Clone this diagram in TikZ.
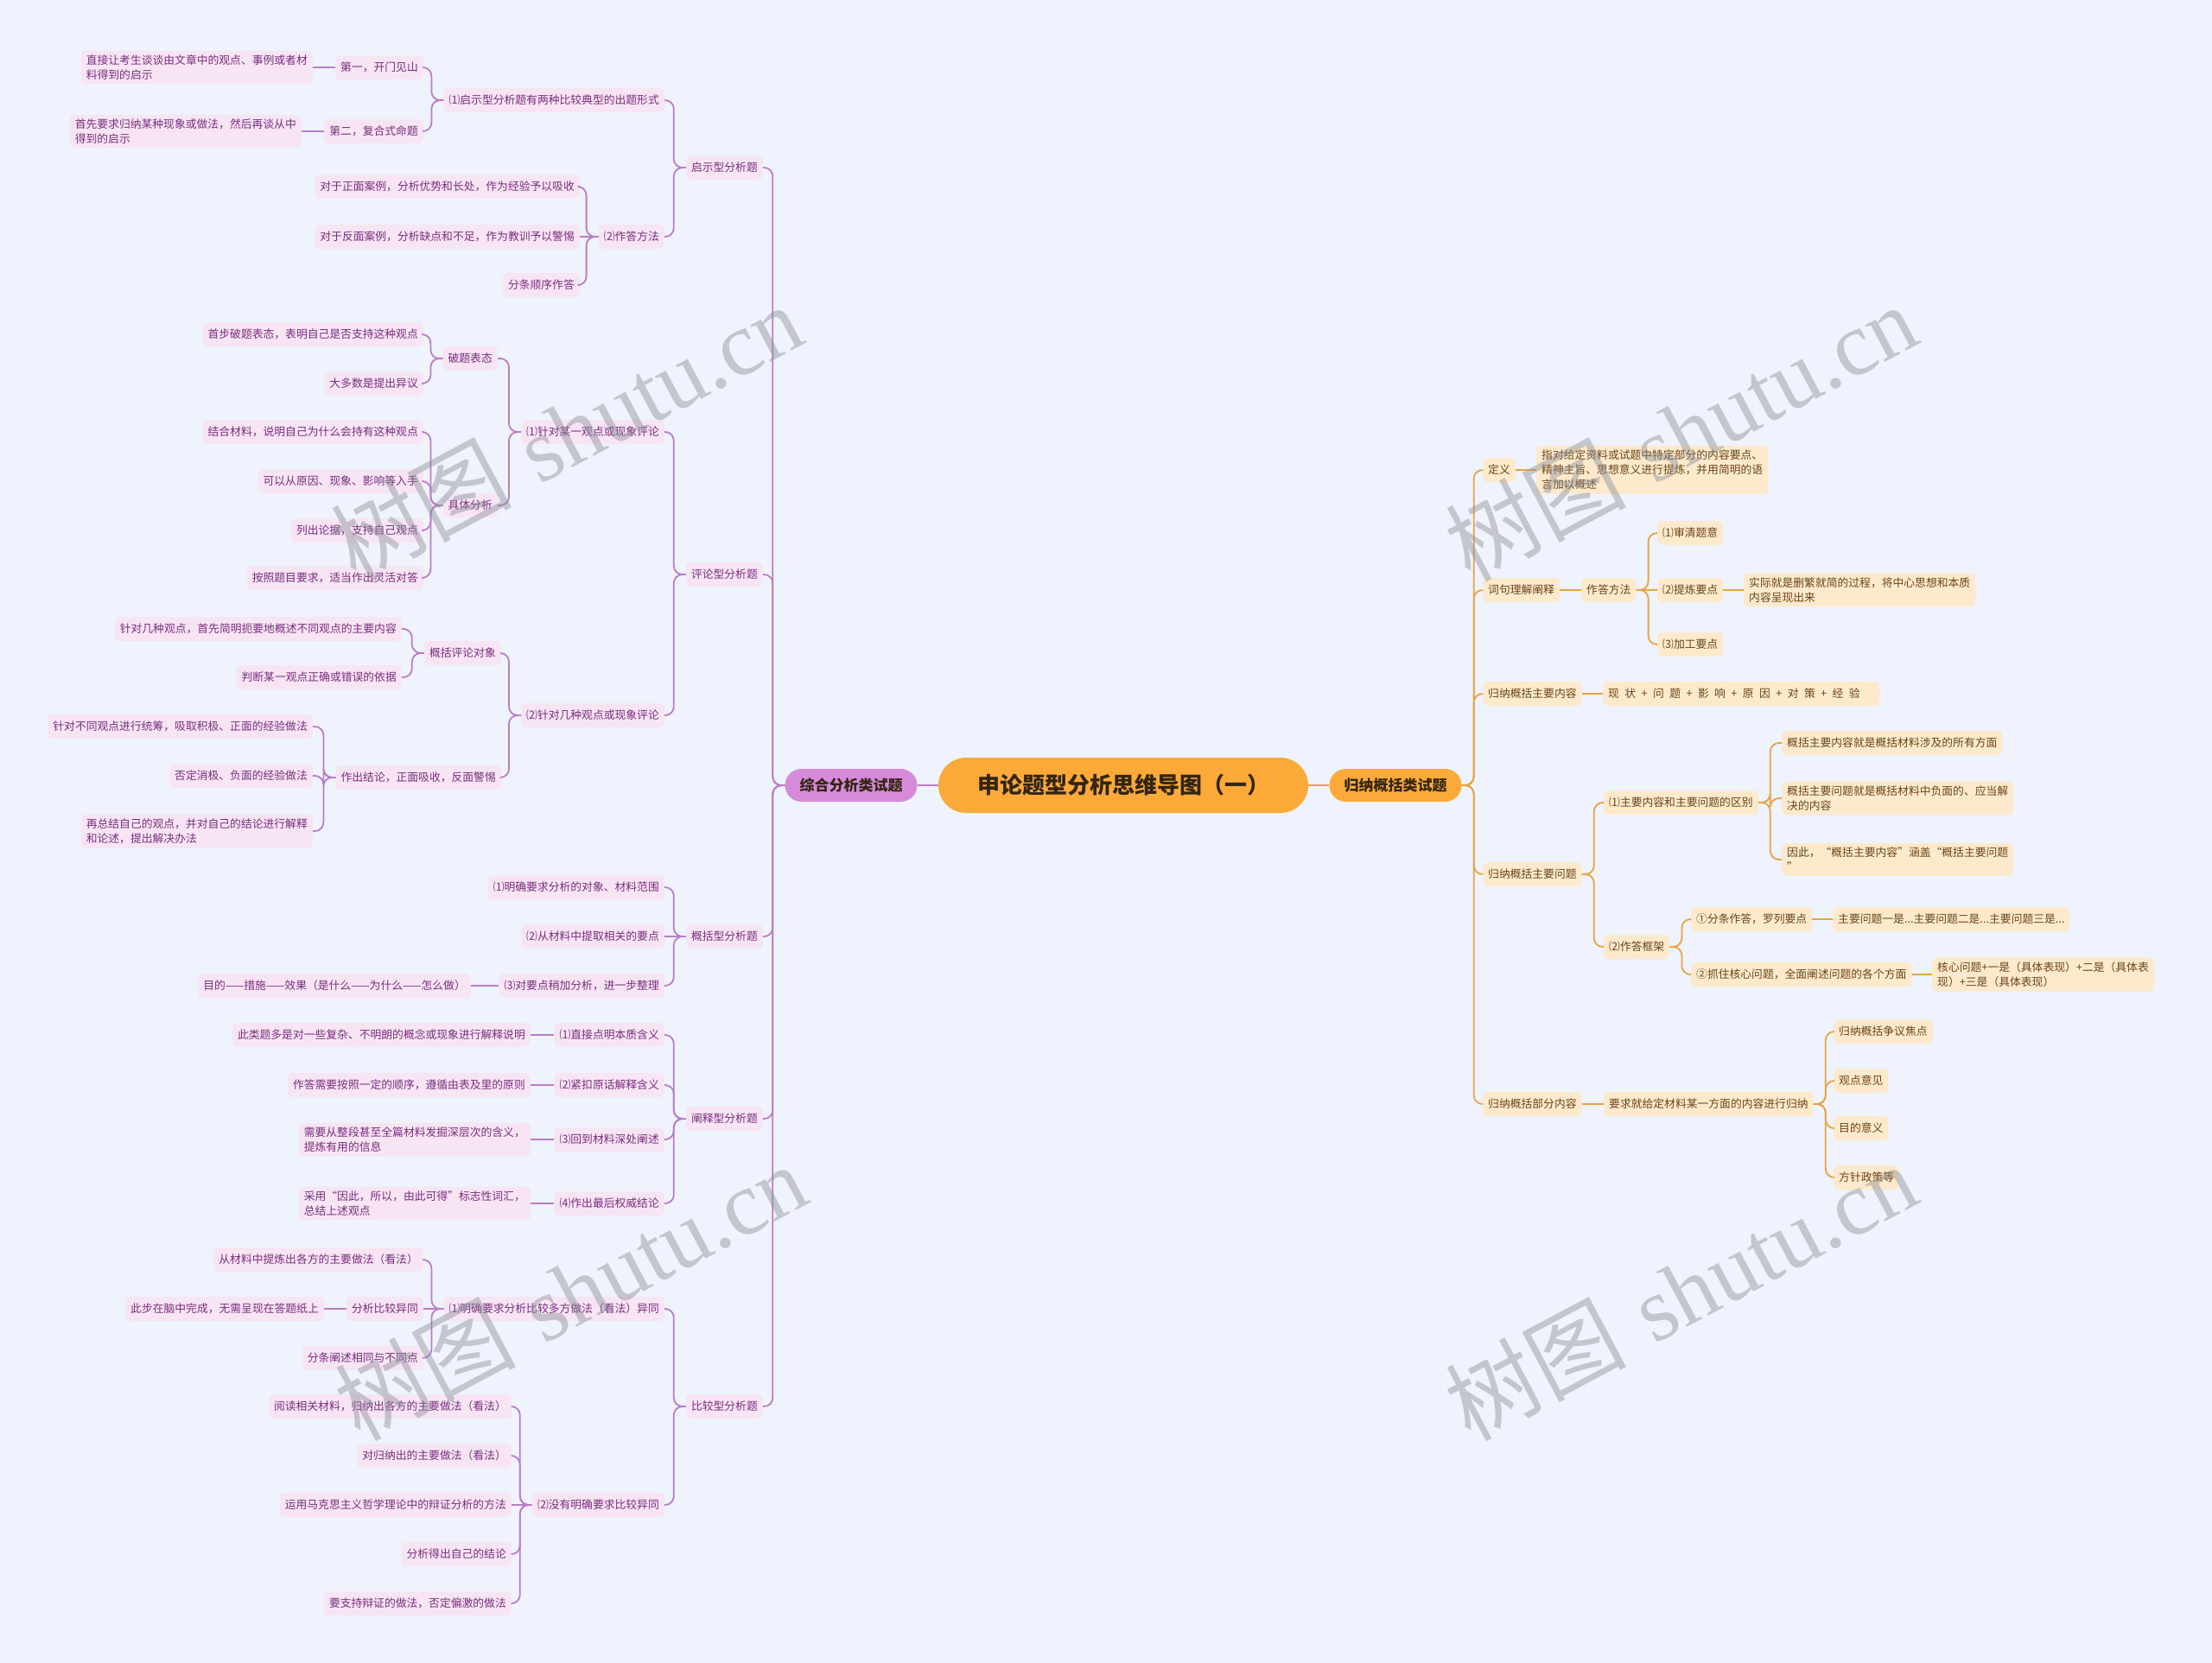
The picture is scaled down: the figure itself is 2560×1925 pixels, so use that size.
\documentclass[tikz,border=0pt]{standalone}
\usepackage{fontspec}
\newfontfamily\cjk{Noto Sans CJK SC}
\newfontfamily\wmserif{Liberation Serif}
\definecolor{bg}{HTML}{EEF3FD}
\definecolor{lfill}{HTML}{F7E5F4}
\definecolor{ltext}{HTML}{7A2C80}
\definecolor{lline}{HTML}{BC7CC6}
\definecolor{lmainfill}{HTML}{D68ADA}
\definecolor{orangefill}{HTML}{FBAA3A}
\definecolor{rfill}{HTML}{FDEACD}
\definecolor{rtext}{HTML}{6A4416}
\definecolor{rline}{HTML}{E9A33F}
\definecolor{darktext}{HTML}{33250F}
\definecolor{wm}{HTML}{8C9099}
\tikzset{
  basebox/.style={rounded corners=5pt, inner xsep=6pt, inner ysep=5pt, minimum height=28pt, align=left, font=\cjk\fontsize{12.8}{17}\selectfont},
  lbox/.style={basebox, fill=lfill, text=ltext, anchor=east},
  rbox/.style={basebox, fill=rfill, text=rtext, anchor=west},
  lconn/.style={draw=lline, line width=1.8pt, rounded corners=10pt},
  rconn/.style={draw=rline, line width=1.8pt, rounded corners=10pt},
  mainbox/.style={rounded corners=19pt, minimum width=153pt, minimum height=38pt, inner sep=0pt, text=darktext, font=\cjk\bfseries\fontsize{17}{20}\selectfont},
  wmark/.style={rotate=28, text=wm, opacity=0.45, font=\fontsize{105}{110}\selectfont}
}
\begin{document}
\begin{tikzpicture}[x=1pt,y=-1pt]
\fill[bg] (0,0) rectangle (2560,1925);
\useasboundingbox (0,0) rectangle (2560,1925);

% centre and main branches
\node[rounded corners=32pt, minimum width=428pt, minimum height=64pt, inner sep=0pt, fill=orangefill, text=darktext, font=\cjk\bfseries\fontsize{26}{30}\selectfont] (C) at (1300,909) {申论题型分析思维导图（一）};
\node[mainbox, fill=lmainfill] (L) at (985,909) {综合分析类试题};
\node[mainbox, fill=orangefill] (R) at (1615,909) {归纳概括类试题};

% ---------------- left side ----------------
\node[lbox] (qs) at (883,194) {启示型分析题};
\node[lbox] (pl) at (883,665) {评论型分析题};
\node[lbox] (gk) at (883,1084) {概括型分析题};
\node[lbox] (cs) at (883,1295) {阐释型分析题};
\node[lbox] (bj) at (883,1628) {比较型分析题};

\node[lbox] (qs1) at (769,116) {⑴启示型分析题有两种比较典型的出题形式};
\node[lbox] (qs2) at (769,274) {⑵作答方法};
\node[lbox] (pl1) at (769,500) {⑴针对某一观点或现象评论};
\node[lbox] (pl2) at (769,828) {⑵针对几种观点或现象评论};
\node[lbox] (gk1) at (769,1027) {⑴明确要求分析的对象、材料范围};
\node[lbox] (gk2) at (769,1084) {⑵从材料中提取相关的要点};
\node[lbox] (gk3) at (769,1141) {⑶对要点稍加分析，进一步整理};
\node[lbox] (cs1) at (769,1198) {⑴直接点明本质含义};
\node[lbox] (cs2) at (769,1256) {⑵紧扣原话解释含义};
\node[lbox] (cs3) at (769,1319) {⑶回到材料深处阐述};
\node[lbox] (cs4) at (769,1393) {⑷作出最后权威结论};
\node[lbox] (bj1) at (769,1515) {⑴明确要求分析比较多方做法（看法）异同};
\node[lbox] (bj2) at (769,1742) {⑵没有明确要求比较异同};

\node[lbox] (qs1a) at (490,78) {第一，开门见山};
\node[lbox] (qs1b) at (490,152) {第二，复合式命题};
\node[lbox] (qs2a) at (671,216) {对于正面案例，分析优势和长处，作为经验予以吸收};
\node[lbox] (qs2b) at (671,274) {对于反面案例，分析缺点和不足，作为教训予以警惕};
\node[lbox] (qs2c) at (671,330) {分条顺序作答};
\node[lbox] (pl1a) at (576,415) {破题表态};
\node[lbox] (pl1b) at (576,585) {具体分析};
\node[lbox] (pl2a) at (580,756) {概括评论对象};
\node[lbox] (pl2b) at (580,900) {作出结论，正面吸收，反面警惕};
\node[lbox] (gk3a) at (545,1141) {目的——措施——效果（是什么——为什么——怎么做）};
\node[lbox] (cs1a) at (614,1198) {此类题多是对一些复杂、不明朗的概念或现象进行解释说明};
\node[lbox] (cs2a) at (614,1256) {作答需要按照一定的顺序，遵循由表及里的原则};
\node[lbox] (cs3a) at (614,1319) {需要从整段甚至全篇材料发掘深层次的含义，\\提炼有用的信息};
\node[lbox] (cs4a) at (614,1393) {采用“因此，所以，由此可得”标志性词汇，\\总结上述观点};
\node[lbox] (bj1a) at (490,1458) {从材料中提炼出各方的主要做法（看法）};
\node[lbox] (bj1b) at (490,1515) {分析比较异同};
\node[lbox] (bj1c) at (490,1572) {分条阐述相同与不同点};
\node[lbox] (bj2a) at (592,1628) {阅读相关材料，归纳出各方的主要做法（看法）};
\node[lbox] (bj2b) at (592,1685) {对归纳出的主要做法（看法）};
\node[lbox] (bj2c) at (592,1742) {运用马克思主义哲学理论中的辩证分析的方法};
\node[lbox] (bj2d) at (592,1799) {分析得出自己的结论};
\node[lbox] (bj2e) at (592,1856) {要支持辩证的做法，否定偏激的做法};

\node[lbox] (qs1a1) at (362,78) {直接让考生谈谈由文章中的观点、事例或者材\\料得到的启示};
\node[lbox] (qs1b1) at (349,152) {首先要求归纳某种现象或做法，然后再谈从中\\得到的启示};
\node[lbox] (pl1a1) at (490,387) {首步破题表态，表明自己是否支持这种观点};
\node[lbox] (pl1a2) at (490,444) {大多数是提出异议};
\node[lbox] (pl1b1) at (490,500) {结合材料，说明自己为什么会持有这种观点};
\node[lbox] (pl1b2) at (490,557) {可以从原因、现象、影响等入手};
\node[lbox] (pl1b3) at (490,614) {列出论据，支持自己观点};
\node[lbox] (pl1b4) at (490,669) {按照题目要求，适当作出灵活对答};
\node[lbox] (pl2a1) at (465,728) {针对几种观点，首先简明扼要地概述不同观点的主要内容};
\node[lbox] (pl2a2) at (465,784) {判断某一观点正确或错误的依据};
\node[lbox] (pl2b1) at (362,841) {针对不同观点进行统筹，吸取积极、正面的经验做法};
\node[lbox] (pl2b2) at (362,898) {否定消极、负面的经验做法};
\node[lbox] (pl2b3) at (362,962) {再总结自己的观点，并对自己的结论进行解释\\和论述，提出解决办法};
\node[lbox] (bj1b1) at (375,1515) {此步在脑中完成，无需呈现在答题纸上};

% ---------------- right side ----------------
\node[rbox] (df) at (1716,544) {定义};
\node[rbox] (cj) at (1716,683) {词句理解阐释};
\node[rbox] (gz) at (1716,803) {归纳概括主要内容};
\node[rbox] (gw) at (1716,1012) {归纳概括主要问题};
\node[rbox] (gb) at (1716,1278) {归纳概括部分内容};

\node[rbox] (df1) at (1778,544) {指对给定资料或试题中特定部分的内容要点、\\精神主旨、思想意义进行提炼，并用简明的语\\言加以概述};
\node[rbox] (cj1) at (1830,683) {作答方法};
\node[rbox, text width=308pt] (gz1) at (1855,803) {现\enspace 状\enspace +\enspace 问\enspace 题\enspace +\enspace 影\enspace 响\enspace +\enspace 原\enspace 因\enspace +\enspace 对\enspace 策\enspace +\enspace 经\enspace 验};
\node[rbox] (gw1) at (1856,929) {⑴主要内容和主要问题的区别};
\node[rbox] (gw2) at (1856,1096) {⑵作答框架};
\node[rbox] (gb1) at (1856,1278) {要求就给定材料某一方面的内容进行归纳};

\node[rbox] (cj1a) at (1918,617) {⑴审清题意};
\node[rbox] (cj1b) at (1918,683) {⑵提炼要点};
\node[rbox] (cj1c) at (1918,746) {⑶加工要点};
\node[rbox] (cj1b1) at (2018,683) {实际就是删繁就简的过程，将中心思想和本质\\内容呈现出来};
\node[rbox] (gw1a) at (2062,860) {概括主要内容就是概括材料涉及的所有方面};
\node[rbox] (gw1b) at (2062,924) {概括主要问题就是概括材料中负面的、应当解\\决的内容};
\node[rbox] (gw1c) at (2062,995) {因此，“概括主要内容”涵盖“概括主要问题\\”};
\node[rbox] (gw2a) at (1957,1064) {①分条作答，罗列要点};
\node[rbox] (gw2b) at (1957,1128) {②抓住核心问题，全面阐述问题的各个方面};
\node[rbox] (gw2a1) at (2121,1064) {主要问题一是...主要问题二是...主要问题三是...};
\node[rbox] (gw2b1) at (2236,1128) {核心问题+一是（具体表现）+二是（具体表\\现）+三是（具体表现）};
\node[rbox] (gb1a) at (2122,1194) {归纳概括争议焦点};
\node[rbox] (gb1b) at (2122,1251) {观点意见};
\node[rbox] (gb1c) at (2122,1306) {目的意义};
\node[rbox] (gb1d) at (2122,1363) {方针政策等};

% ---------------- connectors ----------------
\draw[lconn] (C.west) -- (L.east);
\draw[rconn] (C.east) -- (R.west);
% bracket connectors (child above or below parent)
\foreach \p/\c in {L/qs, L/pl, L/gk, L/cs, L/bj,
  qs/qs1, qs/qs2, qs1/qs1a, qs1/qs1b, qs2/qs2a, qs2/qs2c,
  pl/pl1, pl/pl2, pl1/pl1a, pl1/pl1b, pl1a/pl1a1, pl1a/pl1a2, pl1b/pl1b1, pl1b/pl1b2, pl1b/pl1b3, pl1b/pl1b4,
  pl2/pl2a, pl2/pl2b, pl2a/pl2a1, pl2a/pl2a2, pl2b/pl2b1, pl2b/pl2b2, pl2b/pl2b3,
  gk/gk1, gk/gk3, cs/cs1, cs/cs2, cs/cs3, cs/cs4,
  bj/bj1, bj/bj2, bj1/bj1a, bj1/bj1c, bj2/bj2a, bj2/bj2b, bj2/bj2d, bj2/bj2e}
  \draw[lconn] (\p.west) -- ++(-14,0) |- (\c.east);
% straight connectors (child level with parent)
\foreach \p/\c in {qs1a/qs1a1, qs1b/qs1b1, qs2/qs2b, gk/gk2, gk3/gk3a, cs1/cs1a, cs2/cs2a, cs3/cs3a, cs4/cs4a,
  bj1/bj1b, bj1b/bj1b1, bj2/bj2c}
  \draw[lconn] (\p.west) -- (\c.east);
\foreach \p/\c in {R/df, R/cj, R/gz, R/gw, R/gb, cj1/cj1a, cj1/cj1c,
  gw/gw1, gw/gw2, gw1/gw1a, gw1/gw1b, gw1/gw1c, gw2/gw2a, gw2/gw2b,
  gb1/gb1a, gb1/gb1b, gb1/gb1c, gb1/gb1d}
  \draw[rconn] (\p.east) -- ++(14,0) |- (\c.west);
\foreach \p/\c in {df/df1, cj/cj1, cj1/cj1b, cj1b/cj1b1, gz/gz1, gw2a/gw2a1, gw2b/gw2b1, gb/gb1}
  \draw[rconn] (\p.east) -- (\c.west);

% ---------------- watermarks ----------------
\node[wmark] (wm1) at (655,500) {{\cjk 树图} {\wmserif shutu.cn}};
\node[wmark] (wm2) at (1945,500) {{\cjk 树图} {\wmserif shutu.cn}};
\node[wmark] (wm3) at (660,1495) {{\cjk 树图} {\wmserif shutu.cn}};
\node[wmark] (wm4) at (1945,1495) {{\cjk 树图} {\wmserif shutu.cn}};
\end{tikzpicture}
\end{document}
